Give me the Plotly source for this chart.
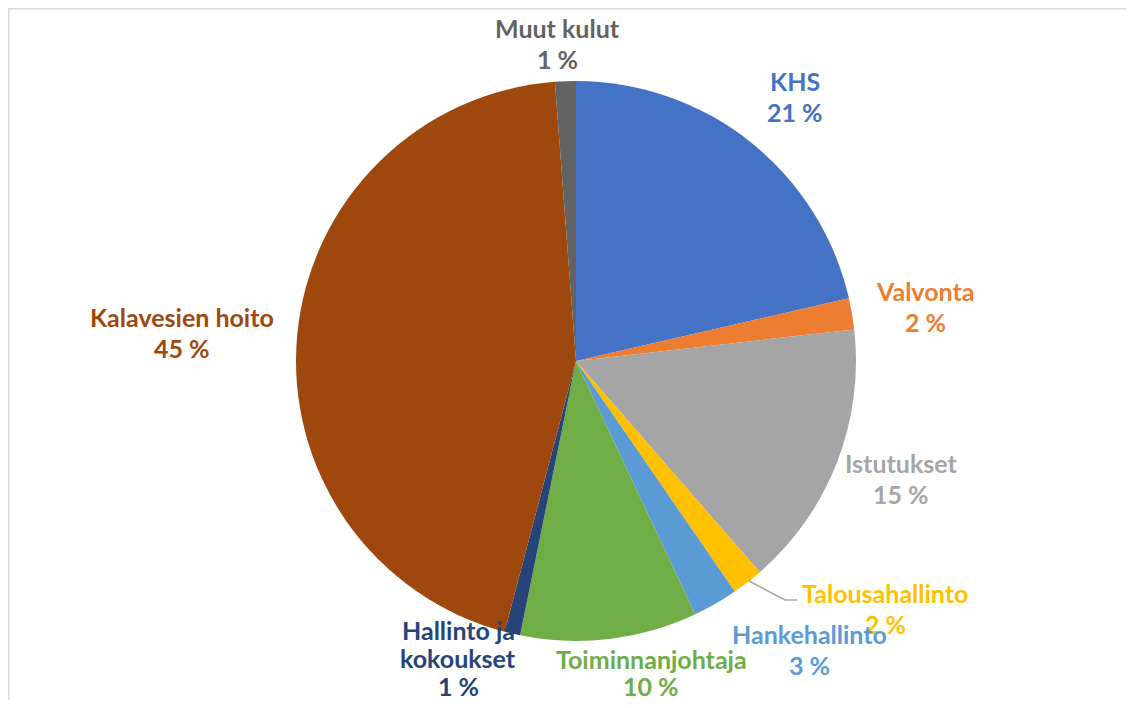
import plotly.graph_objects as go

categories = ["KHS", "Valvonta", "Istutukset", "Talousahallinto", "Hankehallinto",
              "Toiminnanjohtaja", "Hallinto ja kokoukset", "Kalavesien hoito", "Muut kulut"]
values = [21.4, 1.8, 15.4, 1.8, 2.6, 10.2, 0.9, 44.7, 1.2]
colors = ["#4472C4", "#ED7D31", "#A5A5A5", "#FFC000", "#5B9BD5",
          "#70AD47", "#264478", "#9E480E", "#636363"]
label_lines = [["KHS"], ["Valvonta"], ["Istutukset"], ["Talousahallinto"], ["Hankehallinto"],
               ["Toiminnanjohtaja"], ["Hallinto ja", "kokoukset"], ["Kalavesien hoito"], ["Muut kulut"]]
# label anchor positions (window pixel centres of first line) and line spacing
label_pos = [(795, 81), (925, 291), (901, 463), (885, 593), (809, 634),
             (651, 659), (458, 630), (182, 317), (557, 28)]
line_gap = [31, 31, 31, 31, 31, 27, 28, 31, 31]

# the page body has an 8px margin, so the figure starts at (8, 8) in the window
OFF = 8
W, H = 1134 - 2 * OFF, 708 - 2 * OFF


def px(x):
    return (x - OFF) / W


def py(y):
    return 1 - (y - OFF) / H


cx, cy, r = 576, 361, 280

fig = go.Figure(go.Pie(
    labels=categories, values=values, sort=False, direction="clockwise", rotation=0,
    marker=dict(colors=colors, line=dict(width=0)),
    textinfo="none", hoverinfo="label+percent", showlegend=False,
    domain=dict(x=[px(cx - r), px(cx + r)], y=[py(cy + r), py(cy - r)]),
))

font_family = "Lato, sans-serif"
for cat, lines, (lx, ly), gap, col, v in zip(categories, label_lines, label_pos, line_gap, colors, values):
    all_lines = lines + [f"{round(v)} %"]
    for i, t in enumerate(all_lines):
        fig.add_annotation(x=px(lx), y=py(ly + i * gap), xref="paper", yref="paper",
                           text=f"<b>{t}</b>", showarrow=False,
                           font=dict(family=font_family, size=25, color=col),
                           xanchor="center", yanchor="middle")

# leader line for Talousahallinto
fig.add_shape(type="path", xref="paper", yref="paper",
              path=f"M {px(749)} {py(581)} L {px(785)} {py(600)} L {px(797)} {py(600)}",
              line=dict(color="#A6A6A6", width=1.5))

# frame lines (top and left)
fig.add_shape(type="line", xref="paper", yref="paper", x0=0, x1=1, y0=1 - 0.5 / H, y1=1 - 0.5 / H,
              line=dict(color="#D9D9D9", width=2))
fig.add_shape(type="line", xref="paper", yref="paper", x0=0.5 / W, x1=0.5 / W, y0=0, y1=1,
              line=dict(color="#D9D9D9", width=2))

fig.update_layout(width=W, height=H, margin=dict(l=0, r=0, t=0, b=0),
                  paper_bgcolor="white", plot_bgcolor="white")
fig.write_html("out.html")
